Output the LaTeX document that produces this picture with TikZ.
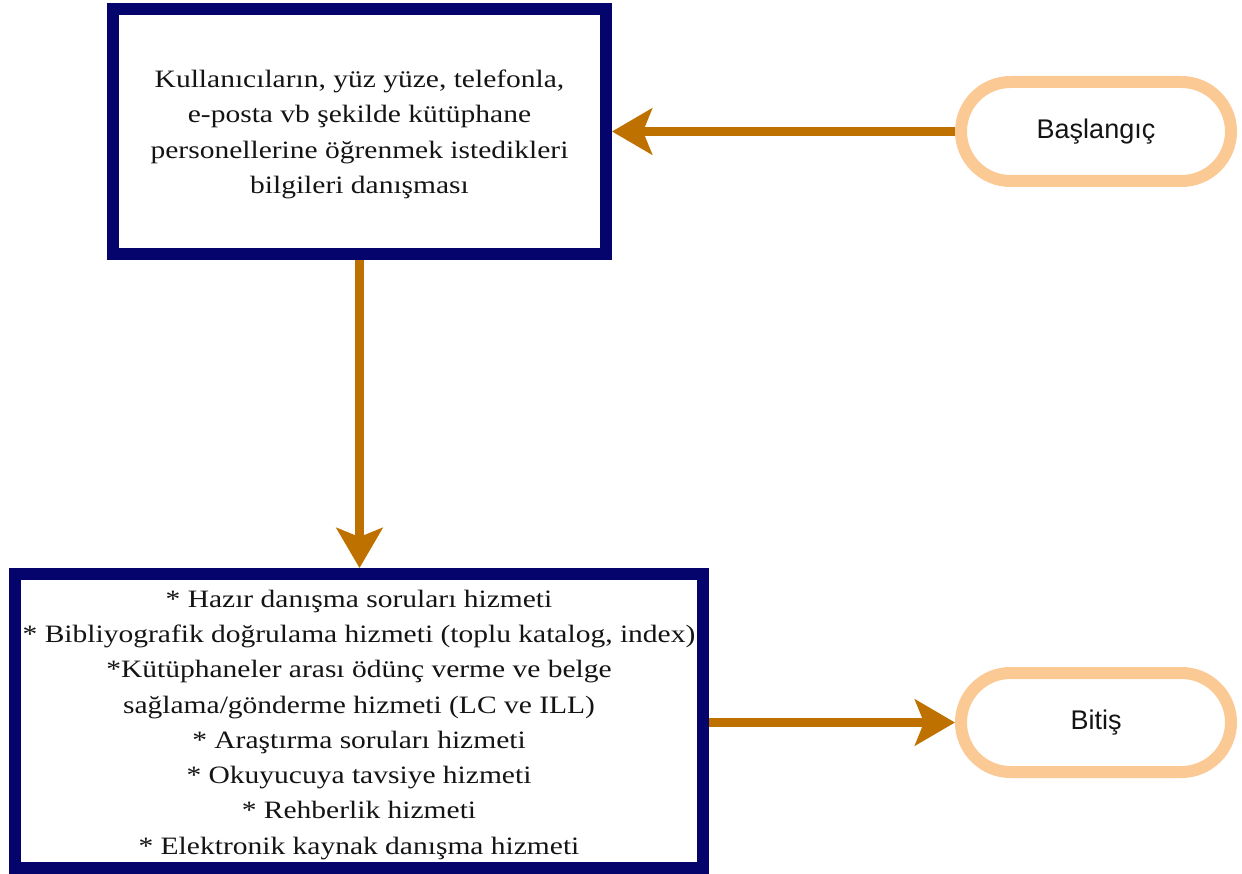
\documentclass[tikz,border=0pt]{standalone}
\usepackage{fontspec}
\setmainfont{Liberation Serif}[FakeStretch=1.18]
\newfontfamily\pillfont{Liberation Sans}
\usetikzlibrary{arrows.meta}
\definecolor{navyc}{RGB}{4,4,108}
\definecolor{arrowc}{RGB}{191,113,0}
\definecolor{pillc}{RGB}{251,201,148}
\definecolor{textc}{RGB}{20,20,20}
\tikzset{
  procbox/.style={draw=navyc, line width=12pt, fill=white, rectangle, inner sep=0pt, text=textc, align=center},
  pill/.style={draw=pillc, line width=12pt, fill=white, rectangle, rounded corners=49.5pt, minimum width=270pt, minimum height=99pt, inner sep=0pt, text=textc, font=\pillfont\fontsize{27}{30}\selectfont},
  flow/.style={draw=arrowc, line width=9.5pt, -{Stealth[length=40pt,width=46pt,inset=9pt]}},
  txt/.style={text=textc, align=center, inner sep=0pt, font=\fontsize{25}{35.3}\selectfont}
}
\begin{document}
\begin{tikzpicture}[x=1pt,y=-1pt]
\useasboundingbox (0,0) rectangle (1242,874);
\node[procbox, minimum width=493pt, minimum height=245pt] (top) at (359.5,131.5) {};
\node[txt] (toptext) at (359.5,134.5)
  {Kullanıcıların, yüz yüze, telefonla,\\e-posta vb şekilde kütüphane\\personellerine öğrenmek istedikleri\\bilgileri danışması};
\node[procbox, minimum width=688pt, minimum height=294pt] (bottom) at (359,721) {};
\node[txt] (bottomtext) at (359,724.7)
  {* Hazır danışma soruları hizmeti\\
   * Bibliyografik doğrulama hizmeti (toplu katalog, index)\\
   *Kütüphaneler arası ödünç verme ve belge\\
   sağlama/gönderme hizmeti (LC ve ILL)\\
   * Araştırma soruları hizmeti\\
   * Okuyucuya tavsiye hizmeti\\
   * Rehberlik hizmeti\\
   * Elektronik kaynak danışma hizmeti};
\node[pill] (start) at (1096,131.5) {Başlangıç};
\node[pill] (finish) at (1096,722.5) {Bitiş};
\draw[flow] (start.west) -- (top.east);
\draw[flow] (top.south) -- (top.south |- bottom.north);
\draw[flow] (bottom.east |- finish.west) -- (finish.west);
\end{tikzpicture}
\end{document}
